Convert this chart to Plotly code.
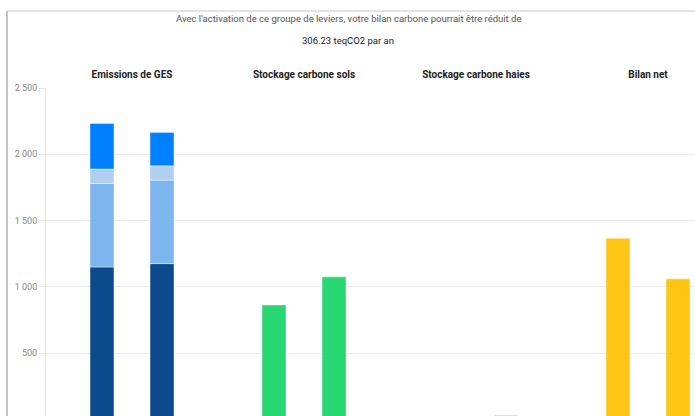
import plotly.graph_objects as go

# ---- data ----
categories = ["Emissions de GES", "Stockage carbone sols", "Stockage carbone haies", "Bilan net"]
periods = ["Avant", "Après"]
ges_seg1 = [1150, 1175]   # dark blue (bottom)
ges_seg2 = [630, 630]     # light blue
ges_seg3 = [108, 108]     # very light blue
ges_seg4 = [345, 252]     # bright blue (top)
sols = [863, 1075]
haies = [0, 32]
bilan_net = [1366, 1060]
title_line1 = "Avec l'activation de ce groupe de leviers, votre bilan carbone pourrait être réduit de"
title_line2 = "306.23 teqCO2 par an"

W, H = 695, 416
ML, MT = 46, 88

fig = go.Figure()

ges_segments = [
    (ges_seg1, "#0c4a8e"),
    (ges_seg2, "#7db5ef"),
    (ges_seg3, "#b0cff0"),
    (ges_seg4, "#0080ff"),
]
edge = dict(color="rgba(255,255,255,0.45)", width=1)

for pi, period in enumerate(periods):
    base = 0
    for seg, col in ges_segments:
        fig.add_trace(go.Bar(
            x=[categories[0]], y=[seg[pi]], base=[base],
            offsetgroup=period, marker=dict(color=col, line=edge),
            showlegend=False, name=period,
        ))
        base += seg[pi]
    fig.add_trace(go.Bar(x=[categories[1]], y=[sols[pi]], offsetgroup=period,
                         marker=dict(color="#28d672", line=edge), showlegend=False, name=period))
    fig.add_trace(go.Bar(x=[categories[2]], y=[haies[pi]], offsetgroup=period,
                         marker=dict(color="#a6e6df", line=edge), showlegend=False, name=period))
    fig.add_trace(go.Bar(x=[categories[3]], y=[bilan_net[pi]], offsetgroup=period,
                         marker=dict(color="#ffc512", line=edge), showlegend=False, name=period))

plot_w = W - ML
plot_h = H - MT

def px_x(p):  # window pixel -> paper
    return (p - ML) / plot_w

def px_y(p):
    return (H - p) / plot_h

fig.update_layout(
    width=W, height=H,
    margin=dict(l=ML, r=0, t=MT, b=0, pad=0),
    paper_bgcolor="white", plot_bgcolor="white",
    font=dict(family="Roboto", color="#444"),
    barmode="group", bargap=0.302, bargroupgap=0.6,
    separators=". ",
    xaxis=dict(
        type="category", categoryorder="array", categoryarray=categories,
        range=[-0.5, -0.5 + plot_w / 172.0],
        side="top", showgrid=False, showline=False, zeroline=False,
        ticks="outside", ticklen=5, tickcolor="rgba(0,0,0,0)",
        tickfont=dict(family="Roboto", size=10, color="#222", weight="bold"),
    ),
    yaxis=dict(
        range=[25, 2500], tickvals=[0, 500, 1000, 1500, 2000, 2500], tickformat=",d",
        showgrid=True, gridcolor="#ebebeb", gridwidth=1,
        showline=True, linecolor="#e6e6e6", linewidth=1,
        ticks="outside", ticklen=6, tickcolor="#e6e6e6",
        zeroline=False,
        tickfont=dict(family="Roboto", size=9, color="#888"),
    ),
    shapes=[
        dict(type="line", xref="paper", yref="paper", x0=px_x(7), x1=px_x(W + 5),
             y0=px_y(11), y1=px_y(11), line=dict(color="#c8c8c8", width=1)),
        dict(type="line", xref="paper", yref="paper", x0=px_x(7), x1=px_x(7),
             y0=px_y(11), y1=px_y(H + 5), line=dict(color="#b0b0b0", width=1.5)),
    ],
    annotations=[
        dict(text=title_line1, xref="paper", yref="paper", x=px_x(348), y=px_y(19),
             xanchor="center", yanchor="middle", showarrow=False,
             font=dict(family="Roboto", size=9.5, color="#555")),
        dict(text=title_line2, xref="paper", yref="paper", x=px_x(348), y=px_y(40),
             xanchor="center", yanchor="middle", showarrow=False,
             font=dict(family="Roboto", size=9.5, color="#222")),
    ],
)

fig.write_html(
    "out.html",
    config={"displayModeBar": False},
    post_script="document.body.style.margin='0';document.body.style.overflow='hidden';",
)
